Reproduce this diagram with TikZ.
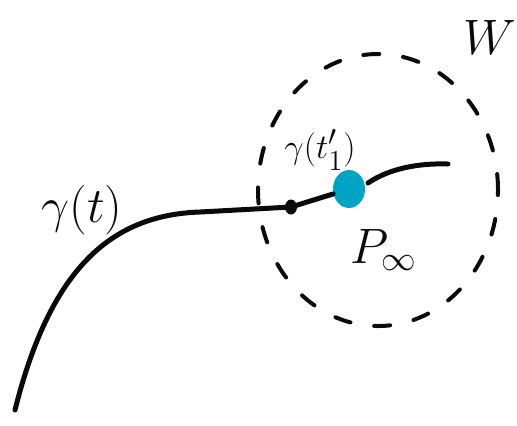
\documentclass[tikz,border=0pt]{standalone}
\usepackage{amsmath,amssymb}
\usepackage{tikz}
\usetikzlibrary{shapes.geometric}
\definecolor{ink}{RGB}{10,10,10}
\definecolor{limitpt}{RGB}{0,163,196}

\begin{document}
\begin{tikzpicture}[x=0.5pt, y=-0.5pt, line cap=round,
    gpath/.style={line width=2.5pt, ink},
    nbhd/.style={line width=2pt, ink, dash pattern=on 8pt off 12pt},
    lbl/.style={font=\fontsize{#1}{#1}\selectfont, ink}]
    \useasboundingbox (0,0) rectangle (517,425);

    \coordinate (S) at (15,410);
    \coordinate (B) at (200,212);
    \coordinate (R) at (368,183);
    \coordinate (E) at (448,164);
    \coordinate (C) at (378,190);

    % the neighbourhood W
    \draw[nbhd] (C) ellipse [x radius=60pt, y radius=68pt];

    \node[ellipse, fill=ink, inner sep=0pt, minimum width=6pt, minimum height=7.5pt] (t1) at (291,207) {};
    \node[ellipse, fill=limitpt, inner sep=0pt, minimum width=16pt, minimum height=19pt] (pinf) at (349,189) {};

    \draw[gpath] (S) .. controls (50,270) and (110,215) .. (B) -- (t1.center) -- (pinf);
    \draw[gpath] (R) .. controls (390,168) and (420,163) .. (E);

    \node[lbl=24] (gam) at (82,210) {$\gamma(t)$};
    \node[lbl=19] (gamt) at (320,150) {$\gamma(t_1')$};
    \node[lbl=26] (plim) at (384,250) {$P_\infty$};
    \node[lbl=28] (W) at (490,37) {$W$};
\end{tikzpicture}
\end{document}
